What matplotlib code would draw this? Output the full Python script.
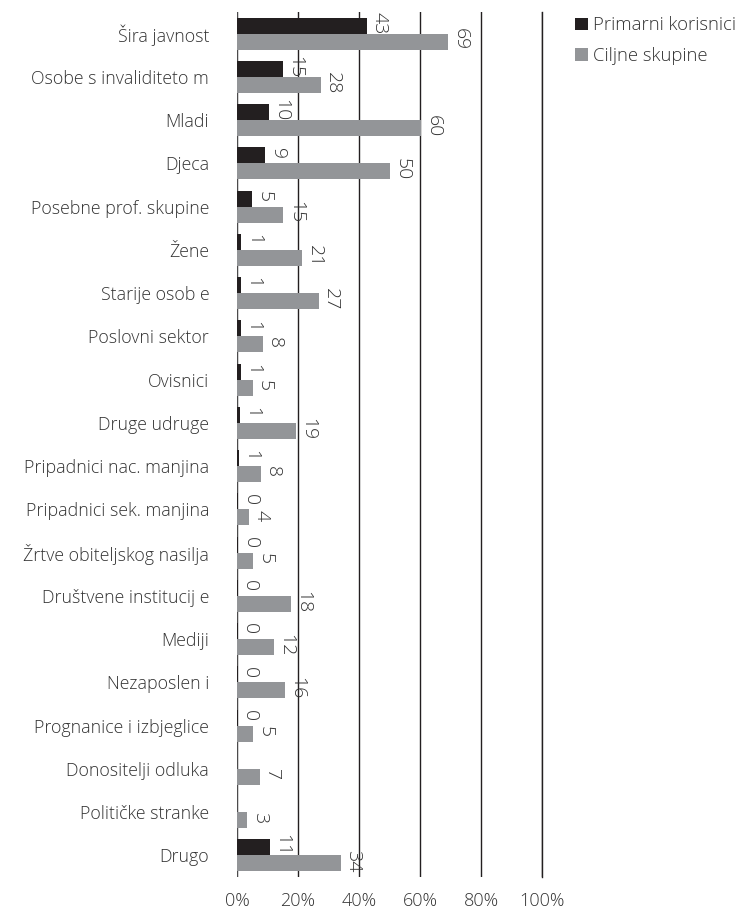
import matplotlib
matplotlib.use("Agg")
import matplotlib.pyplot as plt
import numpy as np
from matplotlib.patches import Patch

plt.rcParams['font.family'] = ['Open Sans', 'DejaVu Sans']

categories = ["Šira javnost", "Osobe s invaliditeto m", "Mladi", "Djeca",
              "Posebne prof. skupine", "Žene", "Starije osob e", "Poslovni sektor",
              "Ovisnici", "Druge udruge", "Pripadnici nac. manjina",
              "Pripadnici sek. manjina", "Žrtve obiteljskog nasilja",
              "Društvene institucij e", "Mediji", "Nezaposlen i",
              "Prognanice i izbjeglice", "Donositelji odluka", "Političke stranke", "Drugo"]
primarni = [42.6, 15.1, 10.4, 9.2, 5.0, 1.4, 1.2, 1.2, 1.2, 0.9, 0.6, 0.3, 0.3,
            0.2, 0.2, 0.2, 0.2, np.nan, np.nan, 10.8]
ciljne = [69.2, 27.5, 60.3, 50.2, 15.2, 21.4, 26.8, 8.4, 5.1, 19.3, 7.8, 3.9, 5.4,
          17.6, 12.0, 15.7, 5.4, 7.4, 3.4, 34.0]
series_names = ["Primarni korisnici", "Ciljne skupine"]
xticks = [0, 20, 40, 60, 80, 100]
xtick_labels = ["0%", "20%", "40%", "60%", "80%", "100%"]

c_black = "#231f20"
c_grey = "#939598"
txt = "#333333"

fig = plt.figure(figsize=(7.40, 9.09), dpi=100)
ax = fig.add_axes([0.3203, 0.0352, 0.7324 - 0.3203, 0.9868 - 0.0352])

n = len(categories)
y = np.arange(n)
h = 0.37
ax.barh(y - h / 2, primarni, height=h, color=c_black, zorder=3)
ax.barh(y + h / 2, ciljne, height=h, color=c_grey, zorder=3)

for i in range(n):
    for val, off in ((primarni[i], -h / 2), (ciljne[i], h / 2)):
        if np.isnan(val):
            continue
        ax.annotate(f"{int(round(val))}", xy=(val, y[i] + off), xytext=(2.5, 1.5),
                    textcoords="offset points", rotation=-90, ha="left", va="center",
                    fontsize=14, color=txt, fontweight="light", zorder=4)

ax.set_ylim(n - 0.5, -0.5)
ax.set_xlim(0, 100)
ax.set_xticks(xticks)
ax.set_xticklabels(xtick_labels, fontsize=13, color=txt, fontweight="light")
ax.set_yticks(y)
ax.set_yticklabels(categories, fontsize=12.8, color=txt, fontweight="light")
ax.tick_params(axis='y', length=0, pad=20)
ax.tick_params(axis='x', length=0, pad=11)
ax.xaxis.grid(True, color=c_black, linewidth=1.0, zorder=0)
ax.set_axisbelow(True)
for s in ["top", "right", "bottom", "left"]:
    ax.spines[s].set_visible(False)
ax.axvline(0, color="#555555", linewidth=1.2, zorder=2)
ax.axvline(100, color=c_black, linewidth=1.0, zorder=0, clip_on=False)

handles = [Patch(facecolor=c_black), Patch(facecolor=c_grey)]
leg = fig.legend(handles, series_names, loc="upper left", bbox_to_anchor=(0.767, 0.99),
                 frameon=False, fontsize=13.3, handlelength=0.7, handleheight=0.7,
                 handletextpad=0.25, labelspacing=0.7, borderaxespad=0)
for t in leg.get_texts():
    t.set_color(txt)
    t.set_fontweight("light")

fig.savefig("out.png", dpi=100)
